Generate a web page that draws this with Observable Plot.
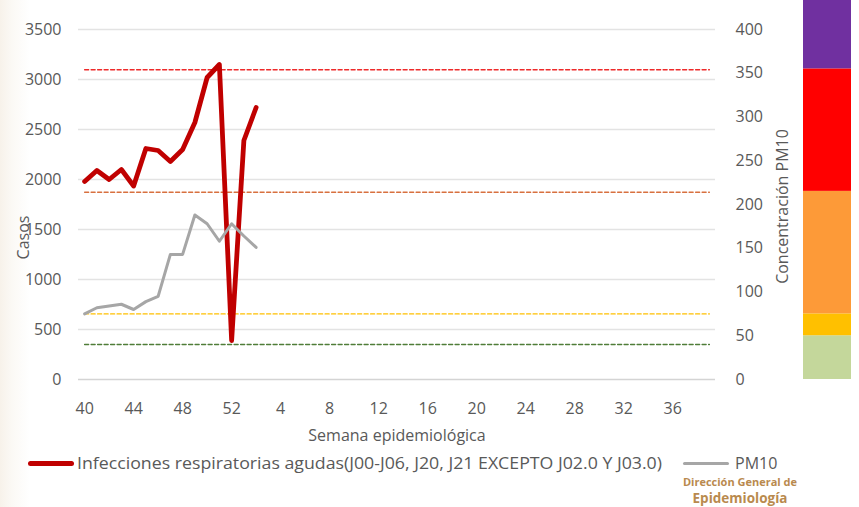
<!DOCTYPE html>
<html><head><meta charset="utf-8">
<script src="https://cdn.jsdelivr.net/npm/d3@7"></script>
<script src="https://cdn.jsdelivr.net/npm/@observablehq/plot@0.6"></script>
<style>
html,body{margin:0;padding:0;background:#fff;}
body{width:859px;height:507px;position:relative;overflow:hidden;font-family:"Open Sans",sans-serif;}
#bg{position:absolute;left:0;top:0;width:40px;height:507px;background:linear-gradient(to right,#f7f2ea 0px,#fbf9f5 12px,rgba(255,255,255,0) 30px);}
#chart{position:absolute;left:0;top:0;}
#band{position:absolute;left:803px;top:0;}
#legend{position:absolute;left:0;top:451px;width:859px;height:24px;color:#595959;font-size:16px;}
#legend .sw{position:absolute;border-radius:3px;}
#legend .tx{position:absolute;white-space:nowrap;line-height:24px;top:0;transform-origin:0 50%;}
#logo1{position:absolute;left:660px;top:476px;width:160px;text-align:center;font-weight:bold;font-size:11px;line-height:12px;color:#b98a4e;white-space:nowrap;}
#logo2{position:absolute;left:660px;top:491px;width:160px;text-align:center;font-weight:bold;font-size:13.5px;color:#b98a4e;line-height:15px;white-space:nowrap;}
</style></head><body>
<div id="bg"></div>
<div id="chart"></div>
<div id="band"></div>
<div id="legend">
  <div class="sw" style="left:28px;top:10px;width:46px;height:5px;background:#c00000"></div>
  <div class="tx" id="lt1" style="left:77px">Infecciones respiratorias agudas(J00-J06, J20, J21 EXCEPTO J02.0 Y J03.0)</div>
  <div class="sw" style="left:683px;top:11px;width:46px;height:3px;background:#a6a6a6"></div>
  <div class="tx" id="lt2" style="left:735px">PM10</div>
</div>
<div id="logo1">Dirección General de</div>
<div id="logo2">Epidemiología</div>
<script>
// Categories: epidemiological weeks
const weeks = [40,41,42,43,44,45,46,47,48,49,50,51,52,1,2,3,4,5,6,7,8,9,10,11,12,13,14,15,16,17,18,19,20,21,22,23,24,25,26,27,28,29,30,31,32,33,34,35,36,37,38,39];
// Series: acute respiratory infections (cases, left axis)
const casos = [1980, 2090, 2000, 2100, 1935, 2310, 2290, 2180, 2300, 2570, 3020, 3150, 390, 2390, 2720];
// Series: PM10 concentration (right axis)
const pm10 = [75, 82, 84, 86, 80, 89, 95, 143, 143, 188, 178, 158, 178, 164, 151];
// Ticks
const leftTicks = [0, 500, 1000, 1500, 2000, 2500, 3000, 3500];
const rightTicks = [0, 50, 100, 150, 200, 250, 300, 350, 400];
const xTickWeeks = [40, 44, 48, 52, 4, 8, 12, 16, 20, 24, 28, 32, 36];
// PM10 threshold reference lines (right axis)
const thresholdValues = [354, 214, 75, 40];
const thresholdColors = ["#ee2a2a", "#d8703f", "#ffc000", "#4f7d38"];
// PM10 colour band (right axis)
const bandLower = [0, 50, 75, 215, 355];
const bandUpper = [50, 75, 215, 355, 434];
const bandColors = ["#c4d79b", "#ffc000", "#fd9a38", "#ff0000", "#7030a0"];

const k = 3500 / 400; // right-axis -> left-axis factor
const idx = weeks.map((_, i) => i);
const casosData = casos.map((v, i) => ({i, v}));
const pmData = pm10.map((v, i) => ({i, v: v * k}));
const xTickIdx = xTickWeeks.map(w => weeks.indexOf(w));

const W = 859, H = 450, MT = 29, MB = 71;

const chart = Plot.plot({
  width: W, height: H,
  marginLeft: 78, marginRight: 144, marginTop: MT, marginBottom: MB,
  style: {fontFamily: "'Open Sans', sans-serif", fontSize: "16px", color: "#595959", background: "transparent", overflow: "visible"},
  x: {type: "linear", domain: [-0.5, weeks.length - 0.5], axis: null, label: null},
  y: {domain: [0, 3500], axis: null, label: null},
  marks: [
    Plot.gridY(leftTicks.filter(d => d > 0), {stroke: "#e3e3e3", strokeOpacity: 1, strokeWidth: 1.3}),
    Plot.ruleY([0], {stroke: "#d4d4d4", strokeWidth: 1.6}),
    ...thresholdValues.map((t, j) => Plot.line(idx.map(i => ({i, v: t * k})), {x: "i", y: "v", stroke: thresholdColors[j], strokeWidth: 1.4, strokeDasharray: "4,2.5"})),
    Plot.line(casosData, {x: "i", y: "v", stroke: "#c00000", strokeWidth: 4.8, strokeLinejoin: "round", strokeLinecap: "round"}),
    Plot.line(pmData, {x: "i", y: "v", stroke: "#a6a6a6", strokeWidth: 3, strokeLinejoin: "round"}),
    Plot.axisY(leftTicks, {anchor: "left", tickSize: 0, tickPadding: 17, tickFormat: d => String(d), label: null}),
    Plot.axisY(rightTicks.map(v => v * k), {anchor: "right", tickSize: 0, tickPadding: 20, tickFormat: d => String(Math.round(d / k)), label: null}),
    Plot.axisX(xTickIdx, {anchor: "bottom", tickSize: 0, tickPadding: 23, tickFormat: i => String(weeks[i]), label: null}),
    Plot.text(["Casos"], {frameAnchor: "left", dx: -55, dy: 33, rotate: -90, textAnchor: "middle", lineAnchor: "middle", fill: "#595959", fontSize: 16}),
    Plot.text(["Concentración PM10"], {frameAnchor: "right", dx: 67, dy: 2, rotate: -90, textAnchor: "middle", lineAnchor: "middle", fill: "#595959", fontSize: 16}),
    Plot.text(["Semana epidemiológica"], {frameAnchor: "bottom", dy: 56, lineAnchor: "middle", textAnchor: "middle", fill: "#595959", fontSize: 16})
  ]
});
document.getElementById("chart").append(chart);

const band = Plot.plot({
  width: 48, height: H,
  marginLeft: 0, marginRight: 0, marginTop: MT, marginBottom: MB,
  style: {background: "transparent", overflow: "visible"},
  x: {axis: null}, y: {domain: [0, 400], axis: null},
  marks: [
    Plot.rect(bandColors.map((c, j) => ({c, lo: bandLower[j], hi: bandUpper[j]})), {y1: "lo", y2: "hi", fill: "c"})
  ],
  color: {type: "identity"}
});
document.getElementById("band").append(band);

// fit legend text width to the reference
const lt1 = document.getElementById("lt1");
const w1 = lt1.getBoundingClientRect().width;
lt1.style.transform = `scaleX(${585 / w1})`;
</script>
</body></html>
